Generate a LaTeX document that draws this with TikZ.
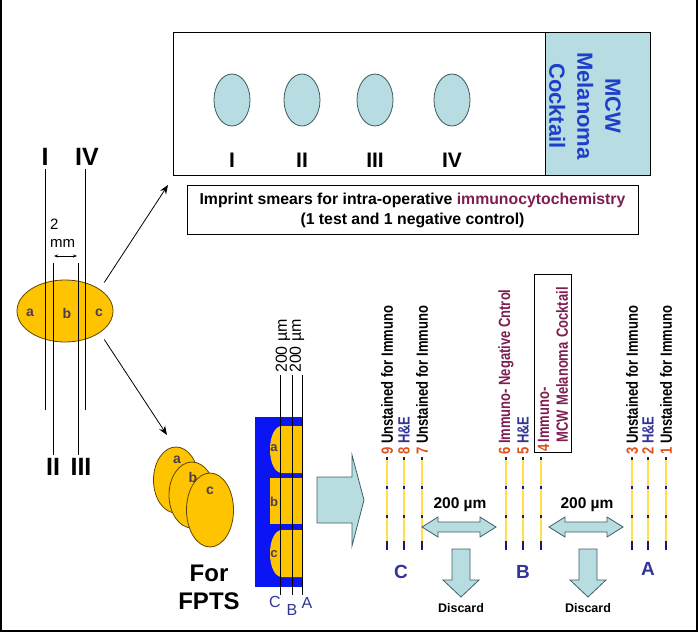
\documentclass[tikz,border=0pt]{standalone}
\usepackage{fontspec}
\setmainfont{Liberation Sans}
\usetikzlibrary{arrows.meta,shapes.geometric}
\definecolor{goldcol}{HTML}{FFC400}
\definecolor{rimcol}{HTML}{5E4500}
\definecolor{smearfill}{HTML}{B7DDE3}
\definecolor{smearline}{HTML}{3C5858}
\definecolor{mcwblue}{HTML}{1E3FC8}
\definecolor{immcol}{HTML}{7E1E50}
\definecolor{navycol}{HTML}{333399}
\definecolor{numcol}{HTML}{E0521C}
\definecolor{piececol}{HTML}{4B3B5B}
\definecolor{blockblue}{HTML}{0A14F5}
\definecolor{slideyel}{HTML}{FFE04A}
\definecolor{tickcol}{HTML}{1A1A70}
\definecolor{arrowfill}{HTML}{B7DDE1}
\definecolor{arrowline}{HTML}{3F5F66}

\begin{document}
\begin{tikzpicture}[x=1pt,y=-1pt]
\tikzset{
	tissue/.style={ellipse, draw=rimcol, fill=goldcol, line width=0.8pt, inner sep=0pt},
	smear/.style={ellipse, draw=smearline, fill=smearfill, line width=0.8pt, minimum width=36pt, minimum height=52pt},
	cutline/.style={line width=0.9pt},
	romnum/.style={font=\fontsize{21}{21}\selectfont\bfseries},
	cutnum/.style={font=\fontsize{25}{25}\selectfont\bfseries},
	piece/.style={font=\fontsize{14}{14}\selectfont\bfseries, text=piececol},
	blockarrow/.style={draw=arrowline, fill=arrowfill, line width=0.8pt},
	slideline/.style={draw=slideyel},
	slidetick/.style={draw=tickcol, line width=1.8pt},
	sllabel/.style={rotate=90, yscale=1.25, anchor=west, inner sep=1pt, font=\fontsize{13}{15}\selectfont\bfseries},
	levelname/.style={font=\fontsize{19}{19}\selectfont\bfseries, text=navycol},
	gaplbl/.style={font=\fontsize{15.5}{15.5}\selectfont\bfseries},
	discardlbl/.style={font=\fontsize{12.5}{12.5}\selectfont\bfseries},
	arr/.style={-{Stealth[length=9pt,width=7pt]}, line width=0.8pt}
}
\def\unst{Unstained for Immuno}
\def\hne{\textcolor{navycol}{H\&E}}
\def\negc{\textcolor{immcol}{Immuno- Negative Cntrol}}
\useasboundingbox (0,0) rectangle (698,634);
\draw[line width=1.5pt] (1,0) -- (1,631) -- (697,631) -- (697,0);

\node[draw, line width=1pt, anchor=north west, inner sep=0pt, minimum width=477pt, minimum height=143pt] (panel) at (173,32) {};
\node[draw, line width=1pt, fill=smearfill, anchor=north east, inner sep=0pt, minimum width=105pt, minimum height=143pt] (strip) at (panel.north east) {};
\node[rotate=-90, align=center, text=mcwblue, font=\fontsize{22}{28}\selectfont\bfseries] (mcw) at (585,106) {MCW\\Melanoma\\Cocktail};
\foreach \ox/\rn [count=\i] in {232/I,302/II,375/III,452/IV}
{
	\node[smear] (smear\i) at (\ox,100) {};
	\node[romnum] (rom\i) at (\ox,160) {\rn};
}
\node[draw, line width=0.8pt, minimum width=451pt, minimum height=49pt, align=center, font=\fontsize{15.8}{20}\selectfont\bfseries] (imprint) at (412.5,210) {Imprint smears for intra-operative \textcolor{immcol}{immunocytochemistry}\\(1 test and 1 negative control)};

\node[tissue, minimum width=96pt, minimum height=62pt] (tissue) at (65,311) {};
\foreach \px/\pl in {30/a,67/b,99/c}
	\node[piece] (cut\pl) at (\px,313) {\pl};
\node[cutnum] (cutI) at (45,157) {I};
\node[cutnum] (cutIV) at (87,157) {IV};
\node[cutnum] (cutII) at (53,467) {II};
\node[cutnum] (cutIII) at (81,467) {III};
\draw[cutline] (cutI.south) -- (45,410);
\draw[cutline] (85,169) -- (85,410);
\draw[cutline] (53,263) -- (cutII.north);
\draw[cutline] (78,263) -- (78,455);
\node[align=left, anchor=west, inner sep=0pt, font=\fontsize{15}{18}\selectfont] (gaptext) at (50,233) {2\\mm};
\coordinate (gapl) at (54,256);
\coordinate (gapr) at (77,256);
\draw[{Stealth[length=4pt]}-{Stealth[length=4pt]}, line width=0.8pt] (gapl) -- (gapr);

\coordinate (toimprint) at (168,185);
\coordinate (tofpts) at (167,435);
\draw[arr, shorten <=8pt] (tissue.32) -- (toimprint);
\draw[arr, shorten <=8pt] (tissue.-32) -- (tofpts);

\node[tissue, minimum width=45pt, minimum height=66pt] (fpa) at (176,480) {};
\node[tissue, minimum width=46pt, minimum height=66pt] (fpb) at (192,495) {};
\node[tissue, minimum width=47pt, minimum height=74pt] (fpc) at (210,510) {};
\node[piece] (fpla) at (177,460) {a};
\node[piece] (fplb) at (193,477) {b};
\node[piece] (fplc) at (210,491) {c};
\node[align=center, font=\fontsize{24}{28}\selectfont\bfseries] (fpts) at (209,587) {For\\FPTS};

\fill[blockblue] (255,417) rectangle (303,587);
\foreach \py in {426,530}
	\fill[goldcol] (303,\py) -- (282,\py) .. controls (275,\py) and (270,\py+10) .. (270,\py+23.5) .. controls (270,\py+37) and (275,\py+47) .. (282,\py+47) -- (303,\py+47) -- cycle;
\fill[goldcol] (270,478) rectangle (303,524);
\foreach \py/\pl in {448/a,502/b,554/c}
	\node[piece, font=\fontsize{13}{13}\selectfont\bfseries] (blk\pl) at (274,\py) {\pl};
\foreach \lx in {280,292,302}
	\draw[line width=0.8pt] (\lx,375) -- (\lx,595);
\foreach \bx/\by/\bl in {275/602/C,292/610/B,307/603/A}
	\node[text=navycol, font=\fontsize{16}{16}\selectfont] (face\bl) at (\bx,\by) {\bl};
\foreach \ux [count=\i] in {283,297}
	\node[rotate=90, anchor=west, inner sep=1pt, font=\fontsize{16}{16}\selectfont] (cutw\i) at (\ux,374) {200 µm};

\draw[blockarrow] (317,477) -- (352,477) -- (352,455) -- (364,500) -- (352,546) -- (352,523) -- (317,523) -- cycle;

\foreach \sx/\num/\lw in {387/9/2.6,404/8/2.6,422/7/2.6,506/6/2.6,523/5/1.2,541/4/1.2,632/3/2.6,648/2/1.2,666/1/1.2}
{
	\draw[slideline, line width=\lw pt] (\sx,457) -- (\sx,550);
	\foreach \ty in {457,486,515}
		\draw[slidetick] (\sx,\ty) -- (\sx,\ty+3);
	\draw[slidetick] (\sx,541) -- (\sx,550);
}
\foreach \sx/\num/\txt in {387/9/\unst,404/8/\hne,422/7/\unst,506/6/\negc,523/5/\hne,632/3/\unst,648/2/\hne,666/1/\unst}
	\node[sllabel] (lbl\num) at (\sx,456) {\textcolor{numcol}{\num} \txt};
\node[draw, line width=0.8pt, rotate=90, yscale=1.25, anchor=west, align=left, inner xsep=1pt, inner ysep=3pt, text width=176pt, text=immcol, font=\fontsize{13}{15}\selectfont\bfseries] (lbl4) at (553,453) {\textcolor{numcol}{4}\,Immuno-\\\hspace*{9pt}MCW Melanoma Cocktail};

\node[levelname] (lvC) at (401,572) {C};
\node[levelname] (lvB) at (523,572) {B};
\node[levelname] (lvA) at (648,569) {A};

\foreach \gx [count=\k] in {459,586}
{
	\draw[blockarrow] (\gx-37,527) -- (\gx-21,517) -- (\gx-21,522) -- (\gx+21,522) -- (\gx+21,517) -- (\gx+37,527) -- (\gx+21,537) -- (\gx+21,532) -- (\gx-21,532) -- (\gx-21,537) -- cycle;
	\node[gaplbl] (gap\k) at (\gx+1,505) {200 µm};
	\draw[blockarrow] (\gx-7,549) -- (\gx+11,549) -- (\gx+11,580) -- (\gx+20,580) -- (\gx+2,597) -- (\gx-16,580) -- (\gx-7,580) -- cycle;
	\node[discardlbl] (discard\k) at (\gx+2,608) {Discard};
}
\end{tikzpicture}
\end{document}
